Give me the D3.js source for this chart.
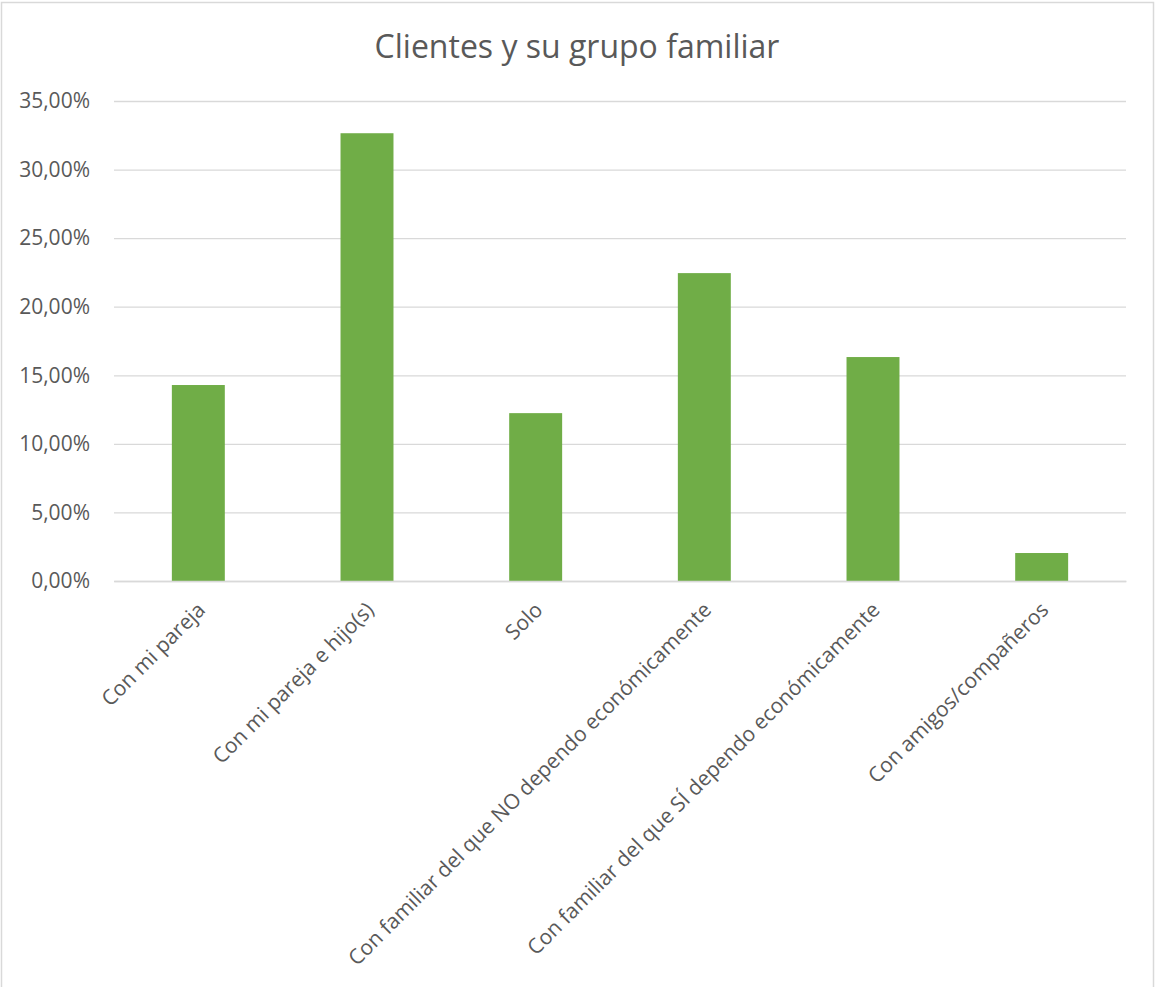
<!DOCTYPE html>
<html lang="es">
<head>
<meta charset="utf-8">
<title>Clientes y su grupo familiar</title>
<script src="https://cdn.jsdelivr.net/npm/d3@7"></script>
<style>
  html, body { margin: 0; padding: 0; background: #ffffff; }
  svg { display: block; font-family: "Open Sans", "Noto Sans", sans-serif; }
</style>
</head>
<body>
<svg id="chart" width="1155" height="987"></svg>
<script>
// Household composition of clients, share of respondents
const categories = [
  "Con mi pareja",
  "Con mi pareja e hijo(s)",
  "Solo",
  "Con familiar del que NO dependo económicamente",
  "Con familiar del que SÍ dependo económicamente",
  "Con amigos/compañeros"
];
const shares = [0.1429, 0.3265, 0.1224, 0.2245, 0.1633, 0.0204];
const yTicks = [0, 0.05, 0.10, 0.15, 0.20, 0.25, 0.30, 0.35];
const chartTitle = "Clientes y su grupo familiar";

const width = 1155, height = 987;
const margin = { top: 101, right: 29, bottom: 406, left: 114 };
const fontFamily = '"Open Sans", "Noto Sans", sans-serif';
const textColor = "#595959";
const gridColor = "#d9d9d9";
const barColor = "#70ad47";

const svg = d3.select("#chart");

// outer chart border
svg.append("rect")
  .attr("x", 1.5).attr("y", 2.5)
  .attr("width", 1152).attr("height", 995)
  .attr("fill", "none")
  .attr("stroke", gridColor)
  .attr("stroke-width", 1.5);

const x = d3.scaleBand()
  .domain(categories)
  .range([margin.left, width - margin.right])
  .paddingInner(0.686)
  .paddingOuter(0.343);

const y = d3.scaleLinear()
  .domain([0, 0.35])
  .range([height - margin.bottom, margin.top]);

const pct = v => d3.format(".2f")(v * 100).replace(".", ",") + "%";

// horizontal gridlines + y tick labels
const yAxis = d3.axisLeft(y)
  .tickValues(yTicks)
  .tickFormat(pct)
  .tickSize(-(width - margin.left - margin.right))
  .tickPadding(24);

const gy = svg.append("g")
  .attr("transform", `translate(${margin.left},0)`)
  .call(yAxis)
  .attr("font-family", fontFamily)
  .attr("font-size", 21);
gy.select(".domain").remove();
gy.selectAll(".tick line")
  .attr("stroke", gridColor)
  .attr("stroke-width", 1.3);
gy.selectAll(".tick text")
  .attr("fill", textColor);

// bars
svg.append("g")
  .selectAll("rect")
  .data(categories.map((c, i) => ({ c, v: shares[i] })))
  .join("rect")
  .attr("x", d => x(d.c))
  .attr("width", x.bandwidth())
  .attr("y", d => y(d.v))
  .attr("height", d => y(0) - y(d.v))
  .attr("fill", barColor);

// category axis line and rotated labels
const xAxis = d3.axisBottom(x).tickSize(0).tickSizeOuter(0);
const gx = svg.append("g")
  .attr("transform", `translate(0,${y(0)})`)
  .call(xAxis)
  .attr("font-family", fontFamily)
  .attr("font-size", 21);
gx.select(".domain")
  .attr("stroke", gridColor)
  .attr("stroke-width", 1.5);
gx.selectAll(".tick text")
  .attr("fill", textColor)
  .attr("text-anchor", "end")
  .attr("dy", "0.35em")
  .attr("y", 0)
  .attr("transform", "translate(3,25) rotate(-45)");

// title
svg.append("text")
  .attr("x", 577)
  .attr("y", 58)
  .attr("text-anchor", "middle")
  .attr("fill", textColor)
  .style("font-size", "32px")
  .text(chartTitle);
</script>
</body>
</html>
